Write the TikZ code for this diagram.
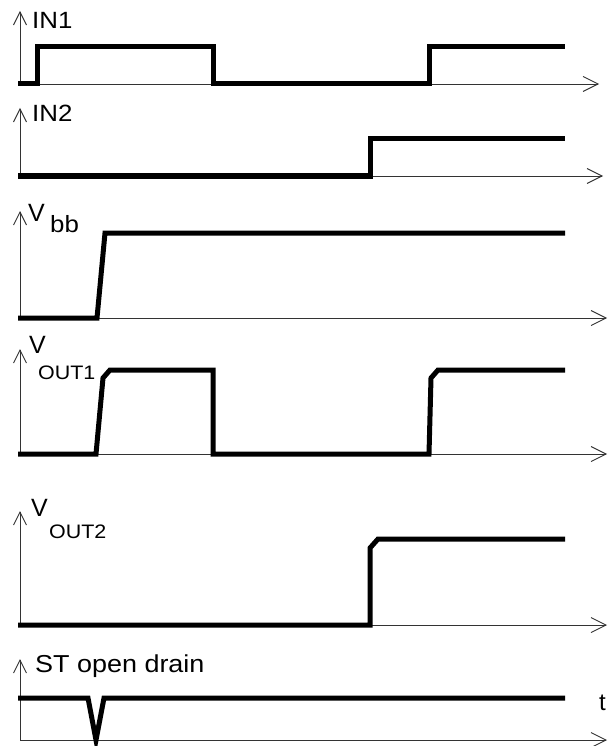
\documentclass[tikz,border=0pt]{standalone}
\usepackage{fontspec}
\setmainfont{Liberation Sans}
\usetikzlibrary{arrows.meta}
\newcommand{\wide}[1]{\scalebox{1.1}[1]{#1}}
\begin{document}
\begin{tikzpicture}[x=1pt,y=-1pt,
  axis/.style={line width=0.9pt, draw=black!80, -{Straight Barb[length=15pt,width=15pt,line width=0.9pt]}},
  vaxis/.style={line width=0.9pt, draw=black!80, -{Straight Barb[length=13pt,width=13pt,line width=0.9pt]}},
  sig/.style={line width=5pt, line join=miter, line cap=butt},
  lbl/.style={anchor=base west, inner sep=0pt, font=\fontsize{23.5}{26}\selectfont},
  sub/.style={anchor=base west, inner sep=0pt, font=\fontsize{19.5}{24}\selectfont},
  vl/.style={anchor=base west, inner sep=0pt, font=\fontsize{25}{28}\selectfont}]
\useasboundingbox (0,0) rectangle (607,746);
% IN1
\coordinate (o1) at (20,84); \coordinate (t1) at (20,11); \coordinate (e1) at (599,84);
\draw[vaxis] (o1) -- (t1); \draw[axis] (o1) -- (e1);
\draw[sig] (18,84) -- (37,84) -- (37,47) -- (213,47) -- (213,84) -- (429,84) -- (429,47) -- (565,47);
\node[lbl] (l1) at (32,29) {\wide{IN1}};
% IN2
\coordinate (o2) at (20,176); \coordinate (t2) at (20,108); \coordinate (e2) at (603,176);
\draw[vaxis] (o2) -- (t2); \draw[axis] (o2) -- (e2);
\draw[sig] (18,176) -- (370,176) -- (370,139) -- (565,139);
\node[lbl] (l2) at (32,122) {\wide{IN2}};
% Vbb
\coordinate (o3) at (20,318); \coordinate (t3) at (20,211); \coordinate (e3) at (607,318);
\draw[vaxis] (o3) -- (t3); \draw[axis] (o3) -- (e3);
\draw[sig] (18,318) -- (97,318) -- (105,233) -- (565,233);
\node[vl] (l3) at (28,221) {V};
\node[lbl] (l3s) at (50,232) {\wide{bb}};
% VOUT1
\coordinate (o4) at (20,454); \coordinate (t4) at (20,349); \coordinate (e4) at (607,454);
\draw[vaxis] (o4) -- (t4); \draw[axis] (o4) -- (e4);
\draw[sig] (18,454) -- (96,454) -- (103,378) -- (110,370) -- (213,370) -- (213,454) -- (429,454) -- (431,378) -- (438,370) -- (565,370);
\node[vl] (l4) at (29,353) {V};
\node[sub] (l4s) at (38,379) {\wide{OUT1}};
% VOUT2
\coordinate (o5) at (20,625); \coordinate (t5) at (20,511); \coordinate (e5) at (607,625);
\draw[vaxis] (o5) -- (t5); \draw[axis] (o5) -- (e5);
\draw[sig] (18,625) -- (370,625) -- (370,548) -- (378,539) -- (565,539);
\node[vl] (l5) at (31,516) {V};
\node[sub] (l5s) at (49,538) {\wide{OUT2}};
% ST
\coordinate (o6) at (20,740); \coordinate (t6) at (20,659); \coordinate (e6) at (607,740);
\draw[vaxis] (o6) -- (t6); \draw[axis] (o6) -- (e6);
\draw[sig] (18,698) -- (88,698) -- (96,740) -- (104,698) -- (565,698);
\node[lbl, font=\fontsize{24.5}{28}\selectfont] (l6) at (35,672) {\wide{ST open drain}};
\node[lbl, font=\fontsize{24}{28}\selectfont] (tt) at (599,710) {t};
\end{tikzpicture}
\end{document}
